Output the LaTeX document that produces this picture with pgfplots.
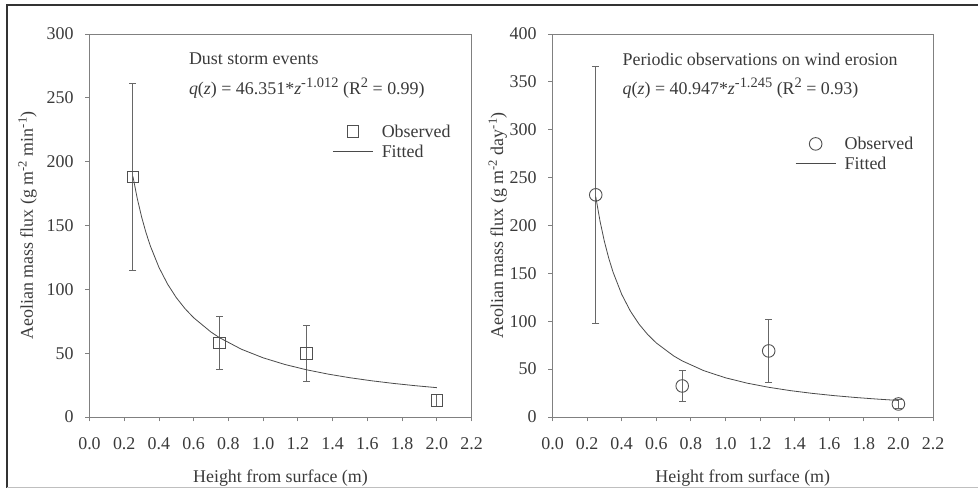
\documentclass[border=0pt]{standalone}
\usepackage{pgfplots}
\pgfplotsset{compat=1.18}
\usepackage{fontspec}
\setmainfont{Liberation Serif}
\definecolor{txt}{HTML}{3A3A3A}
\definecolor{axc}{HTML}{808080}
\definecolor{crv}{HTML}{4A4A4A}
\definecolor{mkc}{HTML}{505050}
\newcommand{\fs}{\fontsize{18}{21}\selectfont}
\newcommand{\sups}[1]{\raisebox{0.42em}{\fontsize{14.5}{15}\selectfont #1}}

\pgfplotsset{
  markleg/.style={legend image code/.code={\draw[mark repeat=2,mark phase=2,##1] plot coordinates {(0bp,0bp) (20bp,0bp) (40bp,0bp)};}},
  lineleg/.style={legend image code/.code={\draw[##1] (0bp,0bp) -- (40bp,0bp);}},
  myaxis/.style={
    scale only axis, width=382bp, height=383bp,
    xmin=0, xmax=2.2, ymin=0,
    xtick={0,0.2,0.4,0.6,0.8,1.0,1.2,1.4,1.6,1.8,2.0,2.2},
    /pgf/number format/assume math mode=true,
    tick align=outside, xtick pos=left, ytick pos=left,
    major tick length=4.5bp,
    axis line style={axc, line width=0.9bp},
    every tick/.style={axc, line width=0.9bp},
    tick label style={txt, font=\fs},
    xticklabel style={yshift=-13bp, /pgf/number format/.cd, fixed, fixed zerofill, precision=1},
    yticklabel style={xshift=-8bp},
    xlabel={Height from surface (m)},
    xlabel style={at={(axis description cs:0.5,-0.160)}, anchor=center, txt, font=\fs},
    ylabel style={txt, font=\fs},
    legend cell align=left,
    legend style={draw=none, fill=none, inner sep=0pt, outer sep=0pt,
      font=\fs, text=txt, row sep=3bp, column sep=7bp,
      nodes={inner sep=1.5bp}},
    obs/.style={only marks, mkc, line width=0.9bp, markleg,
      error bars/y dir=both, error bars/y explicit,
      error bars/error bar style={axc!80!black, line width=0.9bp},
      error bars/error mark options={rotate=90, mark size=3.5bp, axc!80!black, line width=0.9bp}},
    fit/.style={crv, line width=0.8bp, no marks, lineleg},
  }
}

\begin{document}
\begin{tikzpicture}[x=1bp,y=1bp]
\path[use as bounding box] (0,0) rectangle (978,490);
\draw[black!80, line width=1.6bp] (7,485) -- (978,485);
\draw[black!80, line width=1.6bp] (7,2) -- (7,485.8);
\draw[black!25, line width=1bp] (7,2) -- (978,2);

% ---------- left panel ----------
\begin{axis}[myaxis, at={(89.5bp,73bp)}, anchor=south west,
  ymax=300, ytick={0,50,100,150,200,250,300},
  ylabel={Aeolian mass flux (g m\textsuperscript{-2} min\textsuperscript{-1})},
  ylabel style={at={(axis description cs:-0.162,0.5)}, anchor=center},
  legend style={at={(axis description cs:0.636,0.719)}, anchor=west},
]
\addplot+[obs, mark=square, mark size=5.8bp, mark options={solid, fill=none, draw=mkc}] coordinates {
  (0.25,188) +- (0,73)
  (0.75,58) +- (0,21)
  (1.25,50) +- (0,22)
  (2.00,13) +- (0,4.7)
};
\addlegendentry{Observed}
\addplot[fit] coordinates {
  (0.25,188.5) (0.275,171.18) (0.3,156.75) (0.325,144.55) (0.35,134.11)
  (0.4,117.16) (0.45,104.0) (0.5,93.48) (0.55,84.88) (0.6,77.73)
  (0.7,66.50) (0.75,62.02) (0.875,53.06) (1.0,46.35) (1.125,41.14)
  (1.25,36.98) (1.375,33.58) (1.5,30.75) (1.625,28.36) (1.75,26.31)
  (1.875,24.53) (2.0,22.98)
};
\addlegendentry{Fitted}
\node[anchor=west, txt, font=\fs, inner sep=0pt] at (axis description cs:0.260,0.935) {Dust storm events};
\node[anchor=west, txt, font=\fs, inner sep=0pt] at (axis description cs:0.260,0.859)
  {\textit{q}(\textit{z}) = 46.351*\textit{z}\sups{-1.012} (R\sups{2} = 0.99)};
\end{axis}

% ---------- right panel ----------
\begin{axis}[myaxis, width=380.5bp, at={(552.5bp,73bp)}, anchor=south west,
  ymax=400, ytick={0,50,100,150,200,250,300,350,400},
  ylabel={Aeolian mass flux (g m\textsuperscript{-2} day\textsuperscript{-1})},
  ylabel style={at={(axis description cs:-0.144,0.5)}, anchor=center},
  legend style={at={(axis description cs:0.638,0.687)}, anchor=west},
]
\addplot+[obs, mark=o, mark size=6.3bp, mark options={solid, fill=none, draw=mkc}] coordinates {
  (0.25,232) +- (0,134)
  (0.75,32.4) +- (0,16.3)
  (1.25,69) +- (0,33)
  (2.00,13.6) +- (0,5)
};
\addlegendentry{Observed}
\addplot[fit] coordinates {
  (0.25,230.03) (0.275,204.30) (0.3,183.32) (0.325,165.93) (0.35,151.31)
  (0.4,128.13) (0.45,110.66) (0.5,97.05) (0.55,86.19) (0.6,77.34)
  (0.7,63.84) (0.75,58.58) (0.875,48.35) (1.0,40.95) (1.125,35.36)
  (1.25,31.02) (1.375,27.55) (1.5,24.72) (1.625,22.37) (1.75,20.40)
  (1.875,18.72) (2.0,17.28)
};
\addlegendentry{Fitted}
\node[anchor=west, txt, font=\fs, inner sep=0pt] at (axis description cs:0.184,0.935) {Periodic observations on wind erosion};
\node[anchor=west, txt, font=\fs, inner sep=0pt] at (axis description cs:0.184,0.859)
  {\textit{q}(\textit{z}) = 40.947*\textit{z}\sups{-1.245} (R\sups{2} = 0.93)};
\end{axis}
\end{tikzpicture}
\end{document}
